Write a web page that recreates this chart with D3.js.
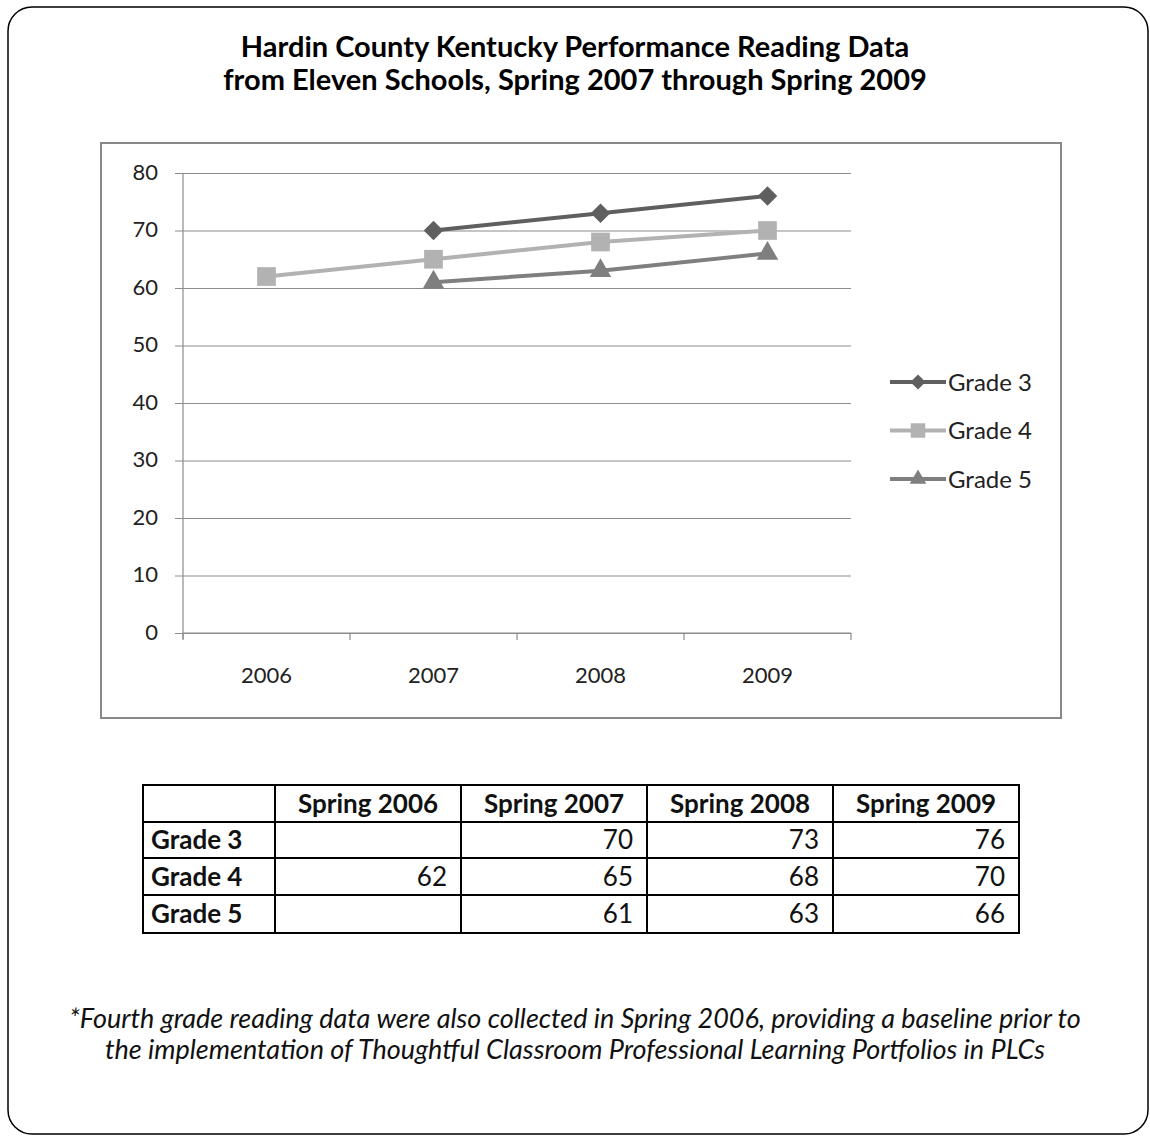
<!DOCTYPE html>
<html>
<head>
<meta charset="utf-8">
<script src="https://cdn.jsdelivr.net/npm/d3@7"></script>
<style>
  body { margin: 0; background: #fff; }
  text { font-family: Lato, "Open Sans", sans-serif; fill: #111; }
</style>
</head>
<body>
<svg id="chart"></svg>
<script>
// data
const years = ['2006', '2007', '2008', '2009'];
const seasons = ['Spring 2006', 'Spring 2007', 'Spring 2008', 'Spring 2009'];
const grades = ['Grade 3', 'Grade 4', 'Grade 5'];
const grade3 = [null, 70, 73, 76];
const grade4 = [62, 65, 68, 70];
const grade5 = [null, 61, 63, 66];
const yTicks = [0, 10, 20, 30, 40, 50, 60, 70, 80];
const titleLines = ['Hardin County Kentucky Performance Reading Data',
                    'from Eleven Schools, Spring 2007 through Spring 2009'];
const noteLines = ['*Fourth grade reading data were also collected in Spring 2006, providing a baseline prior to',
                   'the implementation of Thoughtful Classroom Professional Learning Portfolios in PLCs'];

// diamond = square turned 45 degrees
const series = [
  {name: grades[0], values: grade3, color: '#5f5f5f', symbol: d3.symbolSquare, size: 190, rot: 45},
  {name: grades[1], values: grade4, color: '#b2b2b2', symbol: d3.symbolSquare, size: 350, rot: 0},
  {name: grades[2], values: grade5, color: '#7f7f7f', symbol: d3.symbolTriangle, size: 200, rot: 0}
];

const W = 1150, H = 1137;
const svg = d3.select('#chart').attr('width', W).attr('height', H);

// outer rounded frame
svg.append('rect')
    .attr('x', 8).attr('y', 7)
    .attr('width', 1140).attr('height', 1127)
    .attr('rx', 24)
    .attr('fill', 'none').attr('stroke', '#000').attr('stroke-width', 1.5);

// title
svg.selectAll('.title')
    .data(titleLines)
  .join('text')
    .attr('class', 'title')
    .attr('x', 575)
    .attr('y', (d, i) => 57 + i * 33)
    .attr('text-anchor', 'middle')
    .style('font-size', '29px')
    .style('font-weight', 'bold')
    .style('fill', '#000')
    .text(d => d);

// chart box
svg.append('rect')
    .attr('x', 101).attr('y', 143)
    .attr('width', 960).attr('height', 575)
    .attr('fill', '#fff').attr('stroke', '#888').attr('stroke-width', 2);

const margin = {left: 183, top: 173};
const width = 668, height = 460;
const g = svg.append('g').attr('transform', `translate(${margin.left},${margin.top})`);

const xScale = d3.scaleBand().domain(years).range([0, width]);
const yScale = d3.scaleLinear().domain([0, 80]).range([height, 0]);

// y gridlines + axis
const yAxis = d3.axisLeft(yScale)
    .tickValues(yTicks)
    .tickSize(-width - 8);
const yAxisG = g.append('g').call(yAxis);
yAxisG.select('.domain').remove();
yAxisG.selectAll('.tick line')
    .attr('x1', -8).attr('x2', width)
    .attr('stroke', '#8c8c8c').attr('stroke-width', 1.2);
yAxisG.selectAll('.tick text')
    .attr('x', -25)
    .attr('dy', '0.28em')
    .style('font-size', '22px')
    .style('fill', '#222')
    .style('font-family', 'Lato, sans-serif');

g.append('line')
    .attr('x1', 0).attr('x2', 0)
    .attr('y1', 0).attr('y2', height + 6)
    .attr('stroke', '#8c8c8c').attr('stroke-width', 1.2);

// x axis
const xAxis = d3.axisBottom(xScale).tickSize(0).tickPadding(34);
const xAxisG = g.append('g')
    .attr('transform', `translate(0,${height})`)
    .call(xAxis);
xAxisG.select('.domain').remove();
xAxisG.selectAll('.tick text')
    .style('font-size', '22px')
    .style('fill', '#222')
    .style('font-family', 'Lato, sans-serif');
g.append('line')
    .attr('x1', 0).attr('x2', width)
    .attr('y1', height).attr('y2', height)
    .attr('stroke', '#8c8c8c').attr('stroke-width', 1.2);
const boundaries = d3.range(years.length + 1).map(i => i * xScale.bandwidth());
g.selectAll('.xtick')
    .data(boundaries)
  .join('line')
    .attr('x1', d => d).attr('x2', d => d)
    .attr('y1', height).attr('y2', height + 7)
    .attr('stroke', '#8c8c8c').attr('stroke-width', 1.2);

// lines
const xPos = i => xScale(years[i]) + xScale.bandwidth() / 2;
const line = d3.line()
    .defined(d => d.v != null)
    .x(d => xPos(d.i))
    .y(d => yScale(d.v));

series.forEach(s => {
  const pts = s.values.map((v, i) => ({v, i}));
  g.append('path')
      .datum(pts)
      .attr('d', line)
      .attr('fill', 'none')
      .attr('stroke', s.color)
      .attr('stroke-width', 4);
  g.selectAll(null)
      .data(pts.filter(d => d.v != null))
    .join('path')
      .attr('d', d3.symbol().type(s.symbol).size(s.size))
      .attr('transform', d => `translate(${xPos(d.i)},${yScale(d.v)}) rotate(${s.rot})`)
      .attr('fill', s.color);
});

// legend
const legend = svg.append('g').attr('transform', 'translate(890,382)');
const items = legend.selectAll('g')
    .data(series)
  .join('g')
    .attr('transform', (d, i) => `translate(0,${i * 48.5})`);
items.append('line')
    .attr('x1', 0).attr('x2', 56)
    .attr('stroke', d => d.color).attr('stroke-width', 4);
items.append('path')
    .attr('d', d => d3.symbol().type(d.symbol).size(d.size * 0.6)())
    .attr('transform', d => `translate(28,0) rotate(${d.rot})`)
    .attr('fill', d => d.color);
items.append('text')
    .attr('x', 58)
    .attr('dy', '0.36em')
    .style('font-size', '24px')
    .style('fill', '#222')
    .text(d => d.name);

// table
const colX = [143, 275, 461, 647, 833, 1019];
const rowY = [785, 822, 858, 895, 933];
const tbl = svg.append('g');
tbl.append('rect')
    .attr('x', colX[0]).attr('y', rowY[0])
    .attr('width', colX[5] - colX[0]).attr('height', rowY[4] - rowY[0])
    .attr('fill', 'none').attr('stroke', '#000').attr('stroke-width', 2);
tbl.selectAll('.vl')
    .data(colX.slice(1, 5))
  .join('line')
    .attr('x1', d => d).attr('x2', d => d)
    .attr('y1', rowY[0]).attr('y2', rowY[4])
    .attr('stroke', '#000').attr('stroke-width', 2);
tbl.selectAll('.hl')
    .data(rowY.slice(1, 4))
  .join('line')
    .attr('x1', colX[0]).attr('x2', colX[5])
    .attr('y1', d => d).attr('y2', d => d)
    .attr('stroke', '#000').attr('stroke-width', 2);

tbl.selectAll('.hdr')
    .data(seasons)
  .join('text')
    .attr('x', (d, i) => (colX[i + 1] + colX[i + 2]) / 2)
    .attr('y', (rowY[0] + rowY[1]) / 2)
    .attr('dy', '0.36em')
    .attr('text-anchor', 'middle')
    .style('font-size', '26px')
    .style('font-weight', 'bold')
    .text(d => d);

tbl.selectAll('.rowname')
    .data(grades)
  .join('text')
    .attr('x', colX[0] + 8)
    .attr('y', (d, i) => (rowY[i + 1] + rowY[i + 2]) / 2)
    .attr('dy', '0.36em')
    .style('font-size', '26px')
    .style('font-weight', 'bold')
    .text(d => d);

series.forEach((s, r) => {
  tbl.selectAll(null)
      .data(s.values.map((v, c) => ({v, c})).filter(d => d.v != null))
    .join('text')
      .attr('x', d => colX[d.c + 2] - 14)
      .attr('y', (rowY[r + 1] + rowY[r + 2]) / 2)
      .attr('dy', '0.36em')
      .attr('text-anchor', 'end')
      .style('font-size', '26px')
      .text(d => d.v);
});

// footnote
svg.selectAll('.note')
    .data(noteLines)
  .join('text')
    .attr('x', 575)
    .attr('y', (d, i) => 1028 + i * 31)
    .attr('text-anchor', 'middle')
    .style('font-size', '27px')
    .style('font-style', 'italic')
    .text(d => d);
</script>
</body>
</html>
